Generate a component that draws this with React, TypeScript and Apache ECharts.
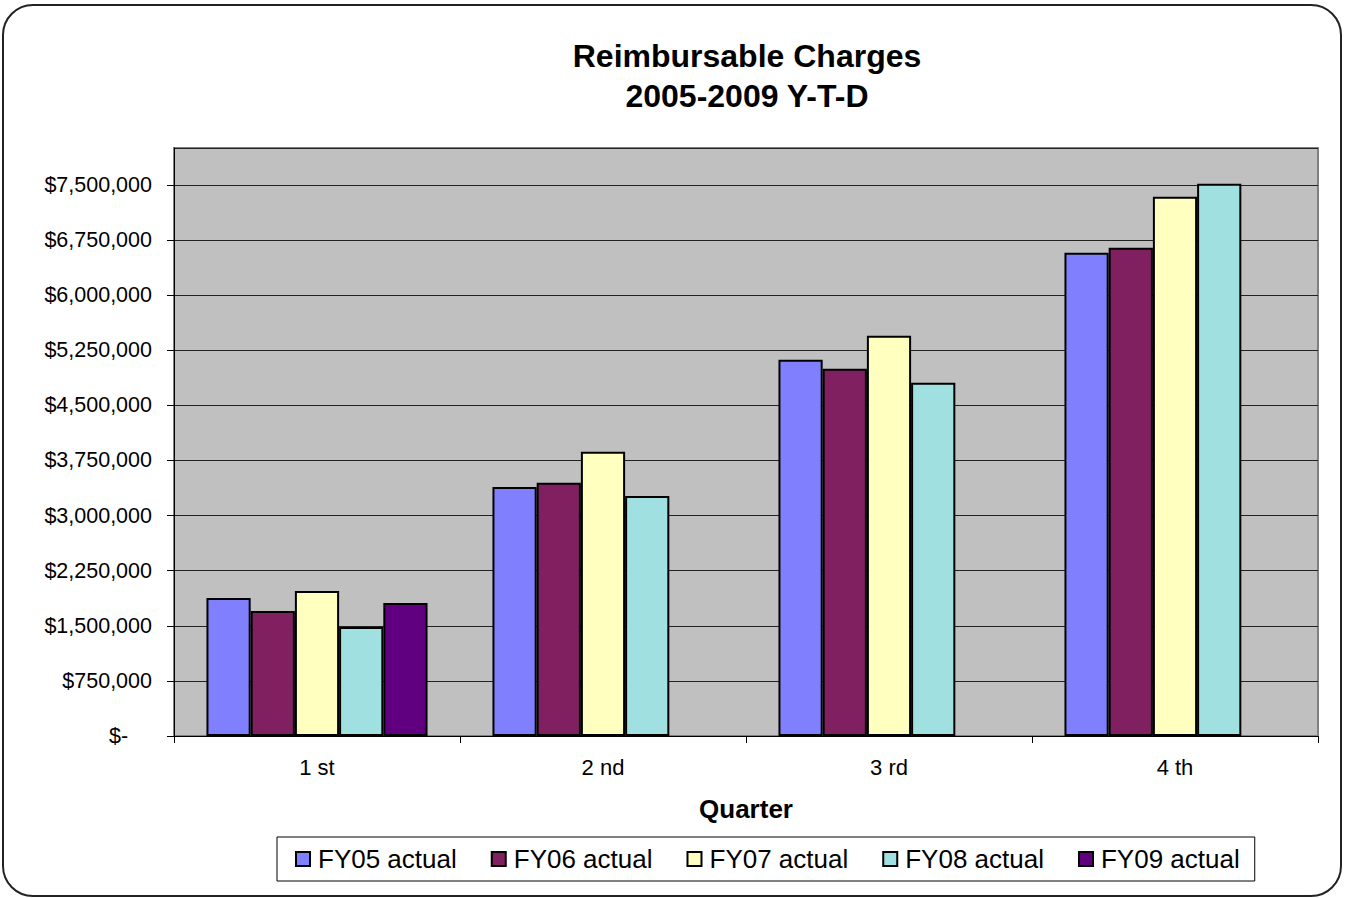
import React, { useEffect, useRef } from "react";
import * as echarts from "echarts";

const categories = ["1 st", "2 nd", "3 rd", "4 th"];
const seriesNames = ["FY05 actual", "FY06 actual", "FY07 actual", "FY08 actual", "FY09 actual"];
const fy05 = [1878000, 3389000, 5118000, 6574000];
const fy06 = [1701000, 3444000, 4995000, 6642000];
const fy07 = [1974000, 3866000, 5444000, 7336000];
const fy08 = [1484000, 3267000, 4805000, 7513000];
const fy09 = [1810000, null, null, null];
const seriesColors = ["#8080FF", "#802060", "#FFFFC0", "#A0E0E0", "#600080"];
const titleLines = ["Reimbursable Charges", "2005-2009 Y-T-D"];

const FONT = "'Liberation Sans', Arial, sans-serif";

export default function App() {
  const ref = useRef<HTMLDivElement>(null);
  useEffect(() => {
    document.body.style.margin = "0";
    const chart = echarts.init(ref.current!, null, { renderer: "svg" });
    const data = [fy05, fy06, fy07, fy08, fy09];
    chart.setOption({
      animation: false,
      backgroundColor: "#ffffff",
      textStyle: { fontFamily: FONT },
      title: {
        text: titleLines.join("\n"),
        left: 742,
        top: 31,
        textAlign: "center",
        textStyle: { fontSize: 32, fontWeight: "bold", color: "#000", lineHeight: 40, fontFamily: FONT },
      },
      graphic: [
        {
          type: "rect",
          shape: { x: 3, y: 5, width: 1338, height: 891, r: 30 },
          style: { fill: "none", stroke: "#222", lineWidth: 2 },
          silent: true,
          z: 100,
        },
      ],
      legend: {
        left: 277,
        top: 837,
        padding: [9, 15, 9, 18],
        borderColor: "#000",
        borderWidth: 1,
        backgroundColor: "#fff",
        itemWidth: 14,
        itemHeight: 14,
        itemGap: 34,
        icon: "rect",
        itemStyle: { borderColor: "#000", borderWidth: 2 },
        textStyle: { fontSize: 26, color: "#000", fontFamily: FONT, padding: [0, 0, 0, 3] },
        data: seriesNames,
      },
      grid: {
        left: 174,
        top: 148,
        width: 1144,
        height: 588,
        show: true,
        backgroundColor: "#C0C0C0",
        borderColor: "#808080",
        borderWidth: 2,
      },
      xAxis: {
        type: "category",
        data: categories,
        name: "Quarter",
        nameLocation: "middle",
        nameGap: 60,
        nameTextStyle: { fontSize: 26, fontWeight: "bold", color: "#000", fontFamily: FONT },
        axisLine: { lineStyle: { color: "#000", width: 1 } },
        axisTick: { show: true, length: 7, lineStyle: { color: "#000" }, alignWithLabel: false },
        axisLabel: { fontSize: 22, color: "#000", margin: 20, fontFamily: FONT },
      },
      yAxis: {
        type: "value",
        min: 0,
        max: 8000000,
        interval: 750000,
        axisLine: { show: true, lineStyle: { color: "#000", width: 1 } },
        axisTick: { show: true, length: 7, lineStyle: { color: "#000" } },
        splitLine: { show: true, lineStyle: { color: "#222", width: 1 } },
        axisLabel: {
          fontSize: 21.5,
          color: "#000",
          margin: 22,
          showMaxLabel: false,
          fontFamily: FONT,
          formatter: (v: number) => {
            if (v === 0) return "$-    ";
            return "$" + v.toLocaleString("en-US");
          },
        },
      },
      series: seriesNames.map((name, i) => ({
        name,
        type: "bar",
        data: data[i],
        barGap: "0%",
        barCategoryGap: "22.7%",
        itemStyle: { color: seriesColors[i], borderColor: "#000", borderWidth: 2 },
      })),
    });
    return () => chart.dispose();
  }, []);
  return <div ref={ref} style={{ width: 1349, height: 898 }} />;
}
